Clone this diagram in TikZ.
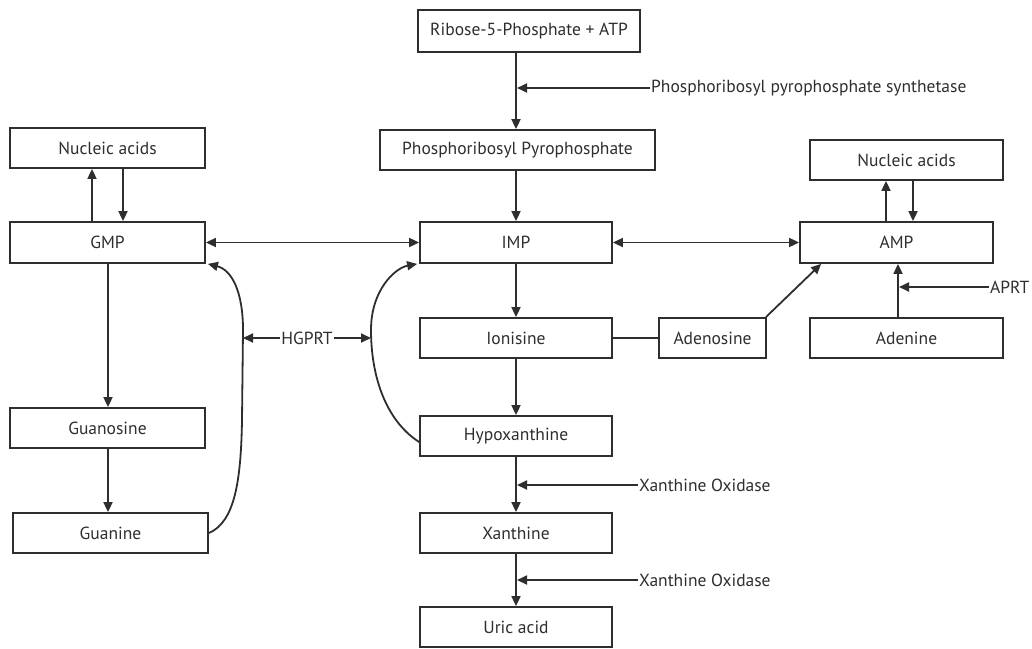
\documentclass[tikz,border=0pt]{standalone}
\usepackage{fontspec}
\setmainfont{PT Sans}
\usetikzlibrary{arrows.meta,calc}
\definecolor{ink}{HTML}{2E2E2E}
\tikzset{
  bx/.style={draw=ink, line width=1.8pt, text=ink, inner sep=0pt, font=\fontsize{17.5}{19}\selectfont},
  lbl/.style={text=ink, inner sep=1pt, font=\fontsize{17.5}{19}\selectfont},
  arr/.style={draw=ink, line width=1.8pt, -{Triangle[length=10pt,width=9pt]}},
  darr/.style={draw=ink, line width=1.8pt, {Triangle[length=10pt,width=9pt]}-{Triangle[length=10pt,width=9pt]}},
  ln/.style={draw=ink, line width=1.8pt}
}
\begin{document}
\begin{tikzpicture}[x=1pt,y={(0pt,-1pt)}]
\useasboundingbox (0,0) rectangle (1032,648);
% boxes
\node[bx, minimum width=222pt, minimum height=42pt] (ribose) at (529,31) {Ribose-5-Phosphate + ATP};
\node[bx, minimum width=275pt, minimum height=40pt] (prpp) at (517.5,150) {Phosphoribosyl Pyrophosphate};
\node[bx, minimum width=192pt, minimum height=41pt] (imp) at (516,242.5) {IMP};
\node[bx, minimum width=195pt, minimum height=41pt] (gmp) at (107.5,242.5) {GMP};
\node[bx, minimum width=195pt, minimum height=40pt] (nal) at (107.5,148) {Nucleic acids};
\node[bx, minimum width=193pt, minimum height=41pt] (amp) at (896.5,242.5) {AMP};
\node[bx, minimum width=193pt, minimum height=40pt] (nar) at (906.5,160) {Nucleic acids};
\node[bx, minimum width=193pt, minimum height=40pt] (adenine) at (906.5,338) {Adenine};
\node[bx, minimum width=107pt, minimum height=40pt] (adenosine) at (712.5,338) {Adenosine};
\node[bx, minimum width=192pt, minimum height=40pt] (ionisine) at (516,338) {Ionisine};
\node[bx, minimum width=192pt, minimum height=40pt] (hypo) at (516,436) {Hypoxanthine};
\node[bx, minimum width=192pt, minimum height=40pt] (xan) at (516,533) {Xanthine};
\node[bx, minimum width=192pt, minimum height=40pt] (uric) at (516,627) {Uric acid};
\node[bx, minimum width=195pt, minimum height=40pt] (guanosine) at (107.5,428) {Guanosine};
\node[bx, minimum width=195pt, minimum height=40pt] (guanine) at (110.5,533) {Guanine};
% labels
\node[lbl, anchor=west] (prs) at (650,88) {Phosphoribosyl pyrophosphate synthetase};
\node[lbl, anchor=west] (xo1) at (638,485) {Xanthine Oxidase};
\node[lbl, anchor=west] (xo2) at (638,580) {Xanthine Oxidase};
\node[lbl, anchor=west] (aprt) at (989,287) {APRT};
\node[lbl] (hgprt) at (307,338) {HGPRT};
% central column
\draw[arr] (ribose.south -| imp.center) -- (prpp.north -| imp.center);
\draw[arr] (prs.west) -- ([xshift=1pt]prs.west -| imp.center);
\draw[arr] (prpp.south -| imp.center) -- (imp.north);
\draw[arr] (imp.south) -- (ionisine.north);
\draw[arr] (ionisine.south) -- (hypo.north);
\draw[arr] (hypo.south) -- (xan.north);
\draw[arr] (xo1.west) -- ([xshift=1pt]xo1.west -| imp.center);
\draw[arr] (xan.south) -- (uric.north);
\draw[arr] (xo2.west) -- ([xshift=1pt]xo2.west -| imp.center);
% horizontal double arrows
\draw[darr] (gmp.east) -- (imp.west);
\draw[darr] (imp.east) -- (amp.west);
% left nucleic acids
\draw[arr] ([xshift=-15.5pt]gmp.north) -- ([xshift=-15.5pt]nal.south);
\draw[arr] ([xshift=15.5pt]nal.south) -- ([xshift=15.5pt]gmp.north);
% right nucleic acids
\coordinate (u1) at ([xshift=-10.5pt]amp.north);
\coordinate (u2) at ([xshift=6.5pt]nar.south);
\draw[arr] (u1) -- (u1 |- nar.south);
\draw[arr] (u2) -- (u2 |- amp.north);
% adenine -> AMP
\coordinate (a1) at ([xshift=-8.5pt]adenine.north);
\draw[arr] (a1) -- (a1 |- amp.south);
\draw[arr] (aprt.west) -- ([xshift=1pt]aprt.west -| a1);
% ionisine -- adenosine -- AMP
\draw[ln] (ionisine.east) -- (adenosine.west);
\draw[arr] ([xshift=-1pt]adenosine.north east) -- ([xshift=22pt]amp.south west);
% guanine branch
\draw[arr] ([xshift=0.5pt]gmp.south) -- ([xshift=0.5pt]gmp.south |- guanosine.north);
\draw[arr] ([xshift=0.5pt]guanosine.south) -- ([xshift=0.5pt]guanosine.south |- guanine.north);
% HGPRT curves
\coordinate (hl) at (243,338);
\coordinate (hr) at (371,338);
\draw[arr] (guanine.east) .. controls (235,522) and (241,480) .. (242,420) -- (243,330) .. controls (243,292) and (232,270) .. ([xshift=2pt]gmp.south east);
\draw[arr] ([yshift=-6pt]hypo.west) .. controls (385,420) and (371,375) .. (371,330) .. controls (371,290) and (395,268) .. ([xshift=-2pt]imp.south west);
\draw[arr] (hgprt.west) -- (hl);
\draw[arr] (hgprt.east) -- (hr);
\end{tikzpicture}
\end{document}
